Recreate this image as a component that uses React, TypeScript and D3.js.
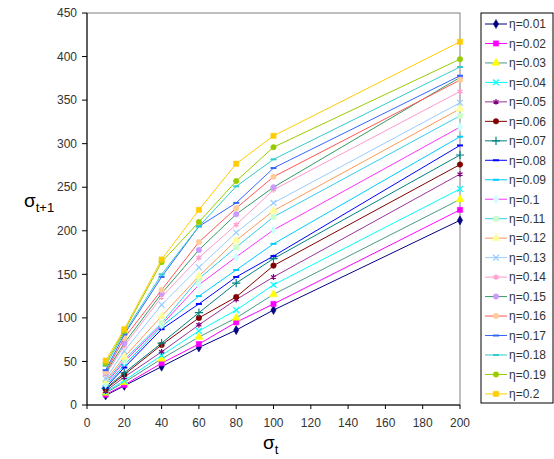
import * as d3 from "d3";

// sigma_t values on the x axis
const sigmaT = [10, 20, 40, 60, 80, 100, 200];

const etaLabels = [
  "η=0.01", "η=0.02", "η=0.03", "η=0.04", "η=0.05",
  "η=0.06", "η=0.07", "η=0.08", "η=0.09", "η=0.1",
  "η=0.11", "η=0.12", "η=0.13", "η=0.14", "η=0.15",
  "η=0.16", "η=0.17", "η=0.18", "η=0.19", "η=0.2",
];

// sigma_{t+1} for each eta
const sigmaNext = [
  [11, 22, 44, 66, 86, 109, 212],
  [12, 23, 48, 70, 95, 116, 224],
  [14, 26, 53, 78, 100, 127, 236],
  [15, 28, 57, 85, 109, 138, 248],
  [16, 32, 61, 92, 121, 147, 265],
  [18, 35, 69, 100, 124, 160, 276],
  [19, 37, 71, 106, 140, 168, 287],
  [20, 43, 87, 116, 147, 171, 298],
  [22, 46, 90, 125, 155, 185, 308],
  [24, 50, 92, 138, 170, 201, 319],
  [26, 52, 94, 145, 181, 216, 332],
  [28, 55, 102, 148, 189, 223, 340],
  [30, 62, 115, 158, 198, 232, 347],
  [35, 68, 124, 169, 207, 247, 360],
  [37, 71, 128, 178, 219, 250, 376],
  [38, 77, 132, 187, 226, 262, 373],
  [40, 81, 147, 205, 232, 272, 378],
  [45, 83, 150, 205, 251, 282, 388],
  [48, 85, 164, 210, 257, 296, 397],
  [51, 87, 167, 224, 277, 309, 417],
];

const lineColors = [
  "#000080", "#ff00ff", "#4a9a86", "#00ffff", "#993399",
  "#800000", "#008080", "#0000ff", "#00ccff", "#ff33ff",
  "#33ccee", "#ff9955", "#99ccff", "#ff99cc", "#339966",
  "#ff5555", "#3366ff", "#33cccc", "#99cc00", "#ffcc00",
];

const markerColors = [
  "#000080", "#ff00ff", "#ffff00", "#00ffff", "#800080",
  "#800000", "#008080", "#0000ff", "#00ccff", "#ccffff",
  "#ccffcc", "#ffff99", "#99ccff", "#ff99cc", "#cc99ff",
  "#ffcc99", "#3366ff", "#33cccc", "#99cc00", "#ffcc00",
];

const markerShapes = [
  "diamond", "square", "triangle", "times", "asterisk",
  "circle", "plus", "dash", "dash", "diamond",
  "square", "triangle", "times", "asterisk", "circle",
  "circle", "dash", "dash", "circle", "square",
];

const xTicks = d3.range(0, 201, 20);
const yTicks = d3.range(0, 451, 50);

const W = 554, H = 459;
const plot = { left: 87, right: 460, top: 13, bottom: 405 };
const legendBox = { x: 481, y: 13, w: 72, h: 390 };

const x = d3.scaleLinear().domain([0, 200]).range([plot.left, plot.right]);
const y = d3.scaleLinear().domain([0, 450]).range([plot.bottom, plot.top]);

const line = d3.line<number>()
  .x((_, i) => x(sigmaT[i]))
  .y((d) => y(d));

const Marker = ({ shape, color, cx, cy }: { shape: string; color: string; cx: number; cy: number }) => {
  const t = `translate(${cx},${cy})`;
  if (shape === "dash") {
    return <line x1={cx - 3} x2={cx + 3} y1={cy} y2={cy} stroke={color} strokeWidth={2} />;
  }
  if (shape === "times" || shape === "plus" || shape === "asterisk") {
    const sym = shape === "times" ? d3.symbolTimes : shape === "plus" ? d3.symbolPlus : d3.symbolAsterisk;
    return <path transform={t} d={d3.symbol(sym, 24)() as string} fill="none" stroke={color} strokeWidth={1.2} />;
  }
  const sym = shape === "diamond" ? d3.symbolDiamond
    : shape === "square" ? d3.symbolSquare
    : shape === "triangle" ? d3.symbolTriangle
    : d3.symbolCircle;
  const size = shape === "square" ? 28 : shape === "triangle" ? 28 : 24;
  return <path transform={t} d={d3.symbol(sym, size)() as string} fill={color} stroke={color} strokeWidth={0.5} />;
};

export default function App() {
  const itemStep = 19.47;
  return (
    <svg width={W} height={H} style={{ position: "absolute", left: 0, top: 0, background: "#fff" }}
      fontFamily="Arial, 'Liberation Sans', sans-serif">
      {/* plot frame */}
      <rect x={plot.left} y={plot.top} width={plot.right - plot.left} height={plot.bottom - plot.top}
        fill="none" stroke="#808080" strokeWidth={1} />
      <line x1={plot.left} x2={plot.left} y1={plot.top} y2={plot.bottom} stroke="#000" />
      <line x1={plot.left} x2={plot.right} y1={plot.bottom} y2={plot.bottom} stroke="#000" />

      {/* y axis */}
      {yTicks.map((t) => (
        <g key={"y" + t}>
          <line x1={plot.left - 5} x2={plot.left} y1={y(t)} y2={y(t)} stroke="#000" />
          <text x={plot.left - 10} y={y(t)} dy="0.35em" textAnchor="end" fontSize={12} fill="#333">{t}</text>
        </g>
      ))}
      {/* x axis */}
      {xTicks.map((t) => (
        <g key={"x" + t}>
          <line x1={x(t)} x2={x(t)} y1={plot.bottom} y2={plot.bottom + 4} stroke="#000" />
          <text x={x(t)} y={plot.bottom + 22} textAnchor="middle" fontSize={12} fill="#333">{t}</text>
        </g>
      ))}

      {/* axis titles */}
      <text x={24} y={207} fontSize={19} fill="#000">σ<tspan fontSize={13} dy={5}>t+1</tspan></text>
      <text x={263} y={449} fontSize={19} fill="#000">σ<tspan fontSize={13} dy={5}>t</tspan></text>

      {/* series */}
      {sigmaNext.map((vals, s) => (
        <g key={"s" + s}>
          <path d={line(vals) as string} fill="none" stroke={lineColors[s]} strokeWidth={1} />
          {vals.map((v, i) => (
            <Marker key={i} shape={markerShapes[s]} color={markerColors[s]} cx={x(sigmaT[i])} cy={y(v)} />
          ))}
        </g>
      ))}

      {/* legend */}
      <rect x={legendBox.x} y={legendBox.y} width={legendBox.w} height={legendBox.h} fill="#fff" stroke="#000" />
      {etaLabels.map((lab, s) => {
        const cy = 24 + s * itemStep;
        return (
          <g key={"l" + s}>
            <line x1={485} x2={507} y1={cy} y2={cy} stroke={lineColors[s]} strokeWidth={1} />
            <Marker shape={markerShapes[s]} color={markerColors[s]} cx={496} cy={cy} />
            <text x={509} y={cy} dy="0.36em" fontSize={12} fill="#333">{lab}</text>
          </g>
        );
      })}
    </svg>
  );
}
